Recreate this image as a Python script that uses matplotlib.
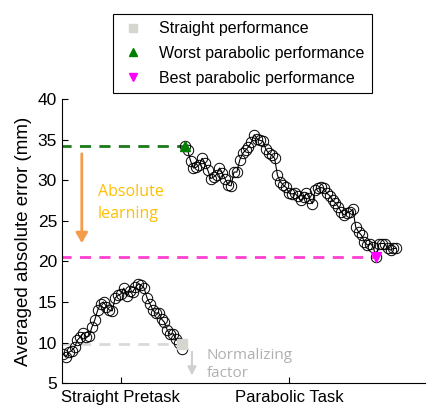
import numpy as np
import matplotlib
matplotlib.use('Agg')
import matplotlib.pyplot as plt
from matplotlib.lines import Line2D

# averaged absolute error (mm), one value per trial block
straight = [8.6, 8.2, 8.8, 9.0, 9.4, 10.3, 10.7, 11.2, 10.7, 10.8,
            11.9, 12.8, 14.0, 14.8, 15.0, 14.4, 14.0, 13.9, 15.5, 15.8,
            16.0, 16.7, 15.7, 16.3, 16.2, 16.8, 17.2, 17.1, 16.7, 15.5,
            14.8, 14.0, 13.6, 13.7, 12.9, 12.5, 11.5, 11.0, 11.1, 10.4,
            10.0, 9.2]
parabolic = [34.2, 33.7, 32.4, 31.5, 31.6, 31.9, 32.7, 32.1, 31.2, 30.2,
             30.4, 30.7, 31.5, 30.9, 30.1, 29.4, 29.3, 31.0, 31.0, 32.5,
             33.3, 33.7, 34.1, 34.7, 35.6, 35.1, 34.9, 34.8, 33.8, 33.3,
             33.1, 32.7, 30.6, 29.8, 29.4, 29.1, 28.4, 28.3, 28.4, 28.0,
             27.5, 27.9, 28.4, 27.8, 27.1, 28.8, 29.0, 29.1, 29.0, 28.4,
             28.1, 27.5, 27.2, 26.7, 26.1, 25.7, 26.0, 26.1, 26.4, 24.2,
             23.6, 23.2, 22.4, 22.0, 22.2, 21.8, 20.5, 22.2, 22.2, 22.2,
             21.6, 21.4, 21.6, 21.6]
straight_perf = 9.8
worst_perf = 34.2
best_perf = 20.5
tick_pos = [20, 78]
tick_labels = ['Straight Pretask', 'Parabolic Task']

x_s = np.arange(len(straight))
x_p = np.arange(len(straight), len(straight) + len(parabolic))
i_best = x_p[int(np.argmin(parabolic))]

plt.rcParams['font.family'] = ['Liberation Sans', 'DejaVu Sans']
fig = plt.figure(figsize=(4.33, 4.16), dpi=100)
ax = fig.add_axes([0.143, 0.079, 0.838, 0.683])

dash = (0, (4, 3))
ax.plot([x_s[0] - 1, x_s[-1]], [straight_perf, straight_perf], color='#d9d9d9', lw=2, linestyle=dash, zorder=1)
ax.plot([x_s[0] - 1, x_p[0]], [worst_perf, worst_perf], color='#1a7a1a', lw=2, linestyle=dash, zorder=1)
ax.plot([x_s[0] - 1, i_best], [best_perf, best_perf], color='#ff3fd2', lw=2, linestyle=dash, zorder=1)

ax.plot(x_s, straight, color='black', lw=0.8, marker='o', mfc='none', mec='black', ms=7.5, mew=0.7, zorder=3)
ax.plot(x_p, parabolic, color='black', lw=0.8, marker='o', mfc='none', mec='black', ms=7.5, mew=0.7, zorder=3)

ax.plot(x_s[-1], straight_perf, 's', color='#d6d6d0', ms=6.5, zorder=4)
ax.plot(x_p[0], worst_perf, '^', color='green', ms=7, zorder=4)
ax.plot(i_best, best_perf, 'v', color='magenta', ms=7, zorder=4)

# annotations
ax.annotate('', xy=(6.5, 21.9), xytext=(6.5, 33.6),
            arrowprops=dict(arrowstyle='-|>,head_width=0.35,head_length=0.6', color='#f59c4c', lw=2))
ax.text(12, 27.2, 'Absolute\nlearning', color='#ffc000', fontsize=11.5, family='Open Sans',
        va='center', ha='left', linespacing=1.45)
ax.annotate('', xy=(44.5, 5.6), xytext=(44.5, 9.2),
            arrowprops=dict(arrowstyle='-|>,head_width=0.25,head_length=0.5', color='#d0d0d0', lw=1.5))
ax.text(49.5, 7.3, 'Normalizing\nfactor', color='#b0b0b0', fontsize=11, family='Open Sans',
        va='center', ha='left', linespacing=1.3)

ax.set_xlim(-0.35, 124.8)
ax.set_ylim(5, 40)
ax.set_yticks(np.arange(5, 41, 5))
ax.set_xticks(tick_pos)
ax.set_xticklabels(tick_labels)
ax.tick_params(direction='in', length=4, width=0.8, labelsize=12.5)
ax.tick_params(axis='x', pad=5, labelsize=12)
ax.spines['top'].set_visible(False)
ax.spines['right'].set_visible(False)
ax.set_ylabel('Averaged absolute error (mm)', fontsize=13.5, labelpad=4)

handles = [
    Line2D([], [], linestyle='none', marker='s', color='#d6d6d0', ms=6),
    Line2D([], [], linestyle='none', marker='^', color='green', ms=6),
    Line2D([], [], linestyle='none', marker='v', color='magenta', ms=6),
]
leg = fig.legend(handles, ['Straight performance', 'Worst parabolic performance', 'Best parabolic performance'],
                 loc='upper center', bbox_to_anchor=(0.56, 0.985), fontsize=11.5, fancybox=False,
                 edgecolor='black', framealpha=1, handlelength=1.6, borderpad=0.45, labelspacing=0.6)
leg.get_frame().set_linewidth(0.8)

plt.savefig('out.png', dpi=100)
